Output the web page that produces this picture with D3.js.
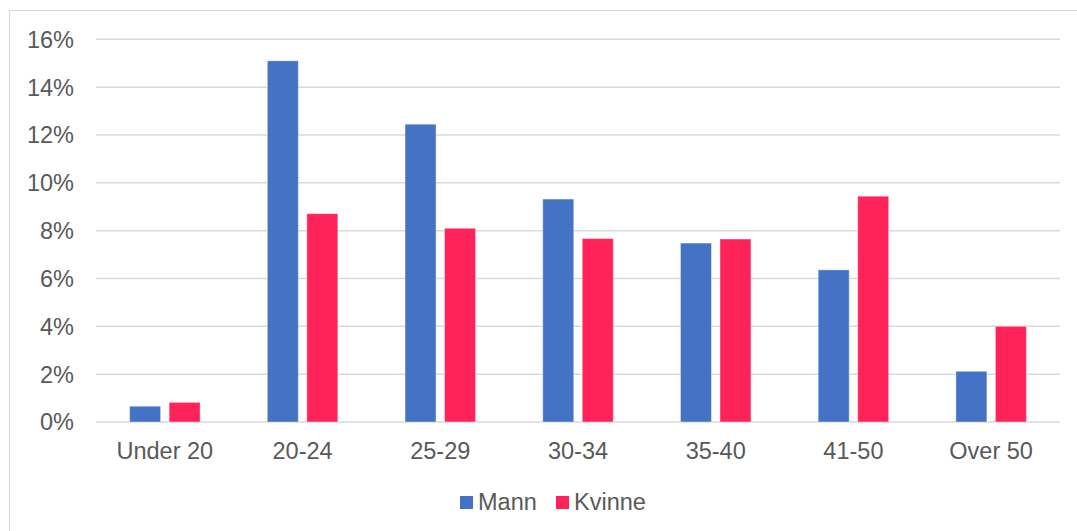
<!DOCTYPE html>
<html>
<head>
<meta charset="utf-8">
<script src="https://cdn.jsdelivr.net/npm/d3@7"></script>
<style>
  body { margin: 0; background: #fff; }
  svg { display: block; font-family: "Liberation Sans", Arial, sans-serif; }
</style>
</head>
<body>
<div id="chart"></div>
<script>
var categories = ['Under 20', '20-24', '25-29', '30-34', '35-40', '41-50', 'Over 50'];
var seriesNames = ['Mann', 'Kvinne'];
var mann = [0.66, 15.1, 12.45, 9.32, 7.48, 6.36, 2.12];
var kvinne = [0.82, 8.71, 8.1, 7.67, 7.65, 9.44, 4.0];
var yTicks = [0, 2, 4, 6, 8, 10, 12, 14, 16];
var colors = ['#4472C4', '#FF2359'];

var width = 1077, height = 531;
var plotLeft = 96, plotRight = 1060, plotTop = 39.3, plotBottom = 422;

var svg = d3.select('#chart').append('svg')
    .attr('width', width)
    .attr('height', height);

// outer frame (right and bottom edges fall outside the picture)
svg.append('rect')
    .attr('x', 9.5).attr('y', 10.5)
    .attr('width', 1200).attr('height', 700)
    .attr('fill', 'none')
    .attr('stroke', '#d9d9d9')
    .attr('stroke-width', 1);

var x = d3.scaleBand().domain(categories).range([plotLeft, plotRight]);
var y = d3.scaleLinear().domain([0, 16]).range([plotBottom, plotTop]);

// gridlines
svg.selectAll('line.grid')
    .data(yTicks).enter()
    .append('line')
    .attr('class', 'grid')
    .attr('x1', plotLeft).attr('x2', plotRight)
    .attr('y1', function (d) { return y(d); })
    .attr('y2', function (d) { return y(d); })
    .attr('stroke', '#d9d9d9')
    .attr('stroke-width', 1.5);

// y labels
svg.selectAll('text.ytick')
    .data(yTicks).enter()
    .append('text')
    .attr('class', 'ytick')
    .attr('x', 74)
    .attr('y', function (d) { return y(d); })
    .attr('dy', '0.36em')
    .attr('text-anchor', 'end')
    .attr('fill', '#595959')
    .style('font-size', '23.5px')
    .text(function (d) { return d + '%'; });

// bars
var barW = 31, gap = 8.5;
var series = [mann, kvinne];
series.forEach(function (vals, si) {
    svg.selectAll('rect.s' + si)
        .data(vals).enter()
        .append('rect')
        .attr('class', 's' + si)
        .attr('x', function (d, i) {
            var c = x(categories[i]) + x.bandwidth() / 2;
            return si === 0 ? c - gap / 2 - barW : c + gap / 2;
        })
        .attr('y', function (d) { return y(d); })
        .attr('width', barW)
        .attr('height', function (d) { return plotBottom - y(d); })
        .attr('fill', colors[si])
        .attr('stroke', '#fff')
        .attr('stroke-opacity', 0.4)
        .attr('stroke-width', 1);
});

// x labels
svg.selectAll('text.xtick')
    .data(categories).enter()
    .append('text')
    .attr('class', 'xtick')
    .attr('x', function (d) { return x(d) + x.bandwidth() / 2; })
    .attr('y', 459)
    .attr('text-anchor', 'middle')
    .attr('fill', '#595959')
    .style('font-size', '23.5px')
    .text(function (d) { return d; });

// legend
var legendX = [460, 556];
seriesNames.forEach(function (name, i) {
    svg.append('rect')
        .attr('x', legendX[i]).attr('y', 496)
        .attr('width', 13).attr('height', 13)
        .attr('fill', colors[i]);
    svg.append('text')
        .attr('x', legendX[i] + 18).attr('y', 510)
        .attr('fill', '#595959')
        .style('font-size', '23.5px')
        .text(name);
});
</script>
</body>
</html>
